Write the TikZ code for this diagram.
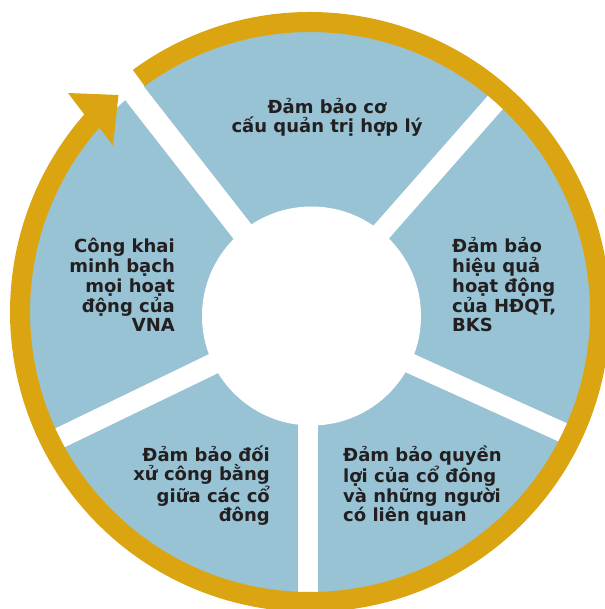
\documentclass[tikz,border=0pt]{standalone}
\usepackage{fontspec}
\setmainfont{DejaVu Sans}
\definecolor{ringgold}{RGB}{219,165,18}
\definecolor{sectorblue}{RGB}{151,195,212}
\definecolor{labelink}{RGB}{35,31,32}
\tikzset{
  sectorlabel/.style={font=\bfseries\fontsize{18}{19.7}\selectfont, text=labelink, inner sep=0pt},
  gapline/.style={draw=white, line width=#1},
  gapline/.default=20pt
}
\begin{document}
\begin{tikzpicture}[x=1pt, y=-1pt]
  % --- SETTINGS ---
  \def\Rblue{281}    % outer radius of the blue sectors
  \def\Rout{300}     % outer radius of the gold ring
  \def\Rin{280}      % inner radius of the gold ring
  \def\Rhole{109.5}  % radius of the white centre
  \useasboundingbox (0,0) rectangle (604,609);

  % --- SECTORS ---
  \fill[sectorblue] (310,312) circle (\Rblue);

  % White gaps between the sectors
  \draw[gapline=23pt] (306,313) -- (121,76);
  \draw[gapline] (310,313) -- (508,88);
  \draw[gapline] (311,318.5) -- (584,442);
  \draw[gapline] (308,313) -- (308,600);
  \draw[gapline=21pt] (311,316.5) -- (41,447);

  \fill[white] (311.5,316) circle (\Rhole);

  % --- GOLD RING WITH ARROW ---
  \begin{scope}[shift={(310,312)}, y=1pt]
    \fill[ringgold] (126.2:\Rout)
      arc[start angle=126.2, end angle=-221.2, radius=\Rout]
      -- (-242,219) -- (-191.5,217) -- (-197,166.5)    % arrow head
      -- (138.8:\Rin)
      arc[start angle=138.8, end angle=486.2, radius=\Rin] -- cycle;
  \end{scope}

  % --- LABELS ---
  \node[sectorlabel, align=center, anchor=base] (governance) at (327,133)
    {Đảm bảo cơ\\cấu quản trị hợp lý};
  \node[sectorlabel, align=left, anchor=base west] (board) at (452,331.7)
    {Đảm bảo\\hiệu quả\\hoạt động\\của HĐQT,\\BKS};
  \node[sectorlabel, align=left, anchor=base west] (rights) at (343,521.7)
    {Đảm bảo quyền\\lợi của cổ đông\\và những người\\có liên quan};
  \node[sectorlabel, align=right, anchor=base east] (equal) at (270,521.7)
    {Đảm bảo đối\\xử công bằng\\giữa các cổ\\đông};
  \node[sectorlabel, align=right, anchor=base east] (disclosure) at (175,331.7)
    {Công khai\\minh bạch\\mọi hoạt\\động của\\VNA};
\end{tikzpicture}
\end{document}
